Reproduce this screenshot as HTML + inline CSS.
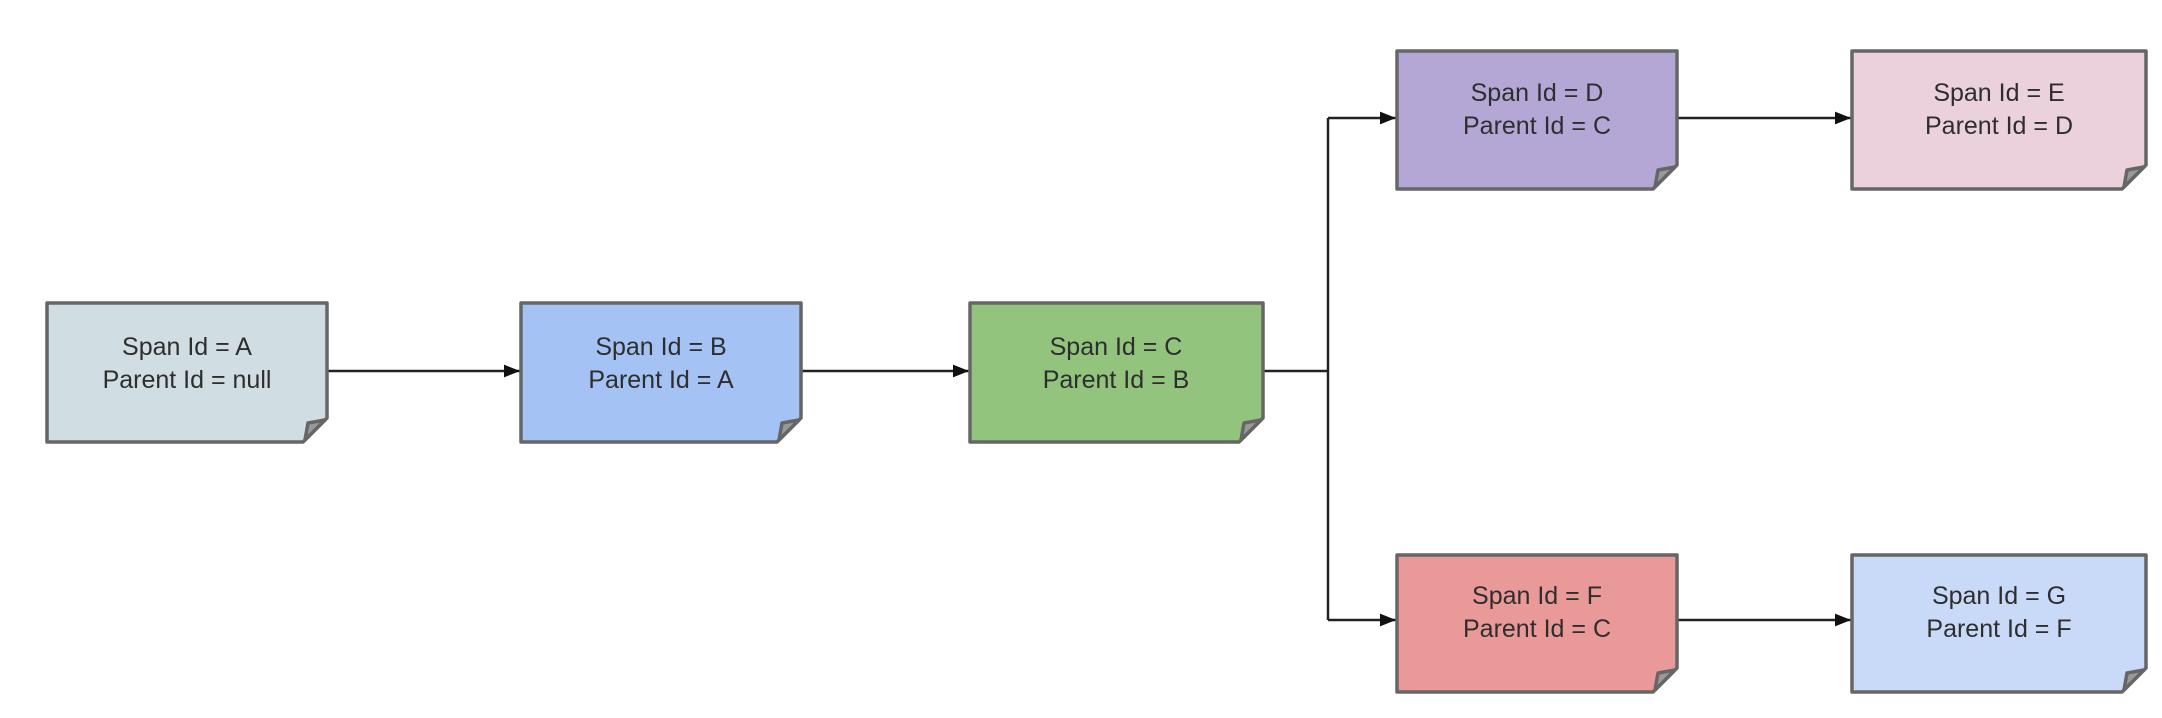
<!DOCTYPE html>
<html><head><meta charset="utf-8"><style>
html,body{margin:0;padding:0;background:#fff;width:2162px;height:718px;overflow:hidden}
svg{display:block}
text{font-family:"Liberation Sans",sans-serif;font-size:25px;fill:#2e2e2e;text-anchor:middle}
</style></head><body>
<svg width="2162" height="718" viewBox="0 0 2162 718">
<defs>
<marker id="a" viewBox="0 0 10 10" markerWidth="20" markerHeight="16" refX="10" refY="5" orient="auto" markerUnits="userSpaceOnUse">
<path d="M0,1 L10,5 L0,9 z" fill="#111"/>
</marker>
</defs>
<g stroke="#222" stroke-width="2.5" fill="none">
<path d="M327,371 H520" marker-end="url(#a)"/>
<path d="M801,371 H969" marker-end="url(#a)"/>
<path d="M1263,371 H1328"/>
<path d="M1328,118 V620"/>
<path d="M1328,118 H1396" marker-end="url(#a)"/>
<path d="M1328,620 H1396" marker-end="url(#a)"/>
<path d="M1677,118 H1851" marker-end="url(#a)"/>
<path d="M1677,620 H1851" marker-end="url(#a)"/>
</g>
<g stroke="#666" stroke-width="3.5" stroke-linejoin="round">
<path d="M47,303 H327 V418 L303,442 H47 Z" fill="#d0dde3"/>
<path d="M325,420 L305,440 L308,423 Z" fill="#999"/>
<path d="M521,303 H801 V418 L777,442 H521 Z" fill="#a4c2f4"/>
<path d="M799,420 L779,440 L782,423 Z" fill="#999"/>
<path d="M970,303 H1263 V418 L1239,442 H970 Z" fill="#93c47d"/>
<path d="M1261,420 L1241,440 L1244,423 Z" fill="#999"/>
<path d="M1397,51 H1677 V165 L1653,189 H1397 Z" fill="#b4a7d6"/>
<path d="M1675,167 L1655,187 L1658,170 Z" fill="#999"/>
<path d="M1852,51 H2146 V165 L2122,189 H1852 Z" fill="#ead1dc"/>
<path d="M2144,167 L2124,187 L2127,170 Z" fill="#999"/>
<path d="M1397,555 H1677 V668 L1653,692 H1397 Z" fill="#ea9999"/>
<path d="M1675,670 L1655,690 L1658,673 Z" fill="#999"/>
<path d="M1852,555 H2146 V668 L2122,692 H1852 Z" fill="#c9daf8"/>
<path d="M2144,670 L2124,690 L2127,673 Z" fill="#999"/>
</g>
<text x="187" y="355">Span Id = A</text><text x="187" y="388">Parent Id = null</text>
<text x="661" y="355">Span Id = B</text><text x="661" y="388">Parent Id = A</text>
<text x="1116" y="355">Span Id = C</text><text x="1116" y="388">Parent Id = B</text>
<text x="1537" y="101">Span Id = D</text><text x="1537" y="134">Parent Id = C</text>
<text x="1999" y="101">Span Id = E</text><text x="1999" y="134">Parent Id = D</text>
<text x="1537" y="604">Span Id = F</text><text x="1537" y="637">Parent Id = C</text>
<text x="1999" y="604">Span Id = G</text><text x="1999" y="637">Parent Id = F</text>
</svg>
</body></html>
